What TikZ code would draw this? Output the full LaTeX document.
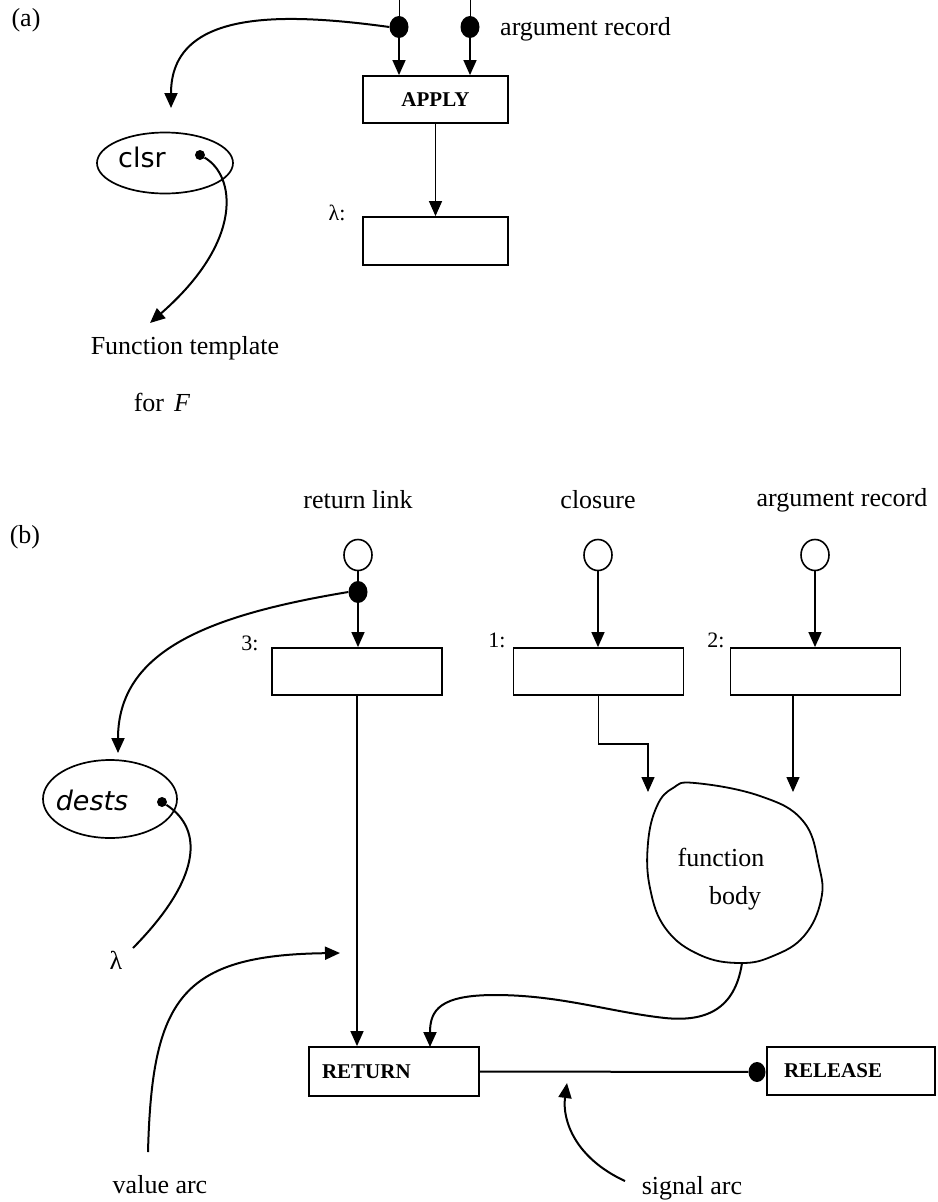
\documentclass[tikz,border=0pt]{standalone}
\usepackage{fontspec}
\setmainfont{Liberation Serif}
\newfontfamily\handfont{DejaVu Sans}
\usetikzlibrary{arrows.meta,shapes.geometric}

\begin{document}
\begin{tikzpicture}[x=1pt,y=-1pt,
  arrowed/.style={-{Triangle[length=15pt,width=13pt]}},
  linkline/.style={line width=1.4pt},
  thinline/.style={line width=1pt},
  bendline/.style={line width=2pt},
  box/.style={draw, line width=1.8pt, minimum width=170pt, minimum height=47pt, inner sep=0pt},
  opbox/.style={box, font=\fontsize{21}{25}\selectfont\bfseries},
  lbl/.style={font=\fontsize{26}{30}\selectfont, inner sep=0pt},
  idx/.style={font=\fontsize{22}{26}\selectfont, inner sep=0pt},
  token/.style={ellipse, fill=black, minimum width=19pt, minimum height=22pt, inner sep=0pt},
  smalldot/.style={circle, fill=black, minimum size=10pt, inner sep=0pt},
  port/.style={ellipse, draw, line width=1.6pt, minimum width=28pt, minimum height=31pt, inner sep=0pt},
  store/.style={ellipse, draw, line width=1.7pt, inner sep=0pt},
  hand/.style={font=\handfont\fontsize{27}{30}\selectfont, inner sep=0pt}
]
\useasboundingbox (0,0) rectangle (937,1202);

% ---------------- (a) APPLY ----------------
\node[lbl] (tagA) at (26,20) {(a)};
\node[lbl, anchor=west] (argA) at (500,29) {argument record};

\coordinate (inA) at (399,0);
\coordinate (inB) at (470,0);
\node[token] (tokA) at (399,27) {};
\node[token] (tokB) at (470,27) {};
\draw[thinline] (inA) -- (tokA);
\draw[thinline] (inB) -- (tokB);

\node[opbox, minimum width=145pt] (apply) at (435.5,99.5) {APPLY};
\node[box, minimum width=145pt, minimum height=48pt] (lam) at (435.5,241) {};
\node[idx] (lamlbl) at (337,213) {λ:};

\draw[linkline,arrowed] (tokA.south) -- (tokA |- apply.north);
\draw[linkline,arrowed] (tokB.south) -- (tokB |- apply.north);
\draw[linkline,arrowed] (apply.south) -- (lam.north);

% closure record
\node[store, minimum width=136pt, minimum height=61pt] (clsr) at (165,163) {};
\node[hand] (clsrtxt) at (142,157) {clsr};
\node[smalldot] (clsrdot) at (200,155) {};
\coordinate (clsrin) at (171,108);
\draw[bendline,arrowed] (tokA.west) .. controls (280,12) and (171,10) .. (clsrin);

\coordinate (tmplend) at (150,323);
\draw[bendline,arrowed] (clsrdot) .. controls (235,175) and (245,240) .. (tmplend);
\node[lbl] (tmpl) at (185,348) {Function template};
\node[lbl] (forF) at (162,402) {for\hspace{10pt}\textit{F}};

% ---------------- (b) call / return ----------------
\node[lbl] (tagB) at (25,537) {(b)};
\node[lbl] (rl) at (358,500) {return link};
\node[lbl] (cl) at (598,500) {closure};
\node[lbl] (ar) at (842,500) {argument record};

\node[port] (p3) at (358,555) {};
\node[port] (p1) at (598,555) {};
\node[port] (p2) at (815,555) {};
\node[token] (tokR) at (358,592) {};

\node[box] (b3) at (357,671.5) {};
\node[box] (b1) at (598.5,671.5) {};
\node[box] (b2) at (815.5,671.5) {};
\node[idx] (l3) at (250,643) {3:};
\node[idx] (l1) at (497,640) {1:};
\node[idx] (l2) at (716,640) {2:};

\draw[linkline] (p3.south) -- (tokR);
\draw[linkline,arrowed] (tokR.south) -- (tokR |- b3.north);
\draw[linkline,arrowed] (p1.south) -- (p1 |- b1.north);
\draw[linkline,arrowed] (p2.south) -- (p2 |- b2.north);

% function body
\coordinate (fb1) at (648,792);
\coordinate (fb2) at (793,792);
\coordinate (fbout) at (742,963);
\draw[linkline,arrowed] (b1.south) -- ++(0,48) -| (fb1);
\draw[linkline,arrowed] (b2.south -| fb2) -- (fb2);
\draw[line width=1.8pt] plot[smooth cycle, tension=0.7] coordinates
  {(695,783) (760,796) (803,821) (819,866) (821,900) (804,936) (773,956)
   (740,963) (700,955) (666,929) (650,888) (648,843) (657,806) (673,788)};
\node[lbl] (fn1) at (721,857) {function};
\node[lbl] (fn2) at (735,898) {body};

% destinations record
\node[store, minimum width=134pt, minimum height=78pt] (dests) at (110,799) {};
\node[hand, font=\handfont\itshape\fontsize{27}{30}\selectfont] (deststxt) at (92,800) {dests};
\node[smalldot] (dd) at (162,802) {};
\coordinate (destsin) at (118,753);
\draw[bendline,arrowed] (tokR.west) .. controls (210,615) and (118,650) .. (destsin);
\node[idx, font=\fontsize{26}{30}\selectfont] (lamB) at (116,960) {λ};
\coordinate (lamend) at (133,948);
\draw[bendline] (dd) .. controls (205,830) and (200,880) .. (lamend);

% RETURN / RELEASE
\node[opbox, text width=144pt, align=left, inner xsep=13pt, minimum height=49pt] (ret) at (394,1071.5) {RETURN};
\node[opbox, minimum width=168pt, text width=134pt, align=left, inner xsep=17pt, minimum height=48pt] (rel) at (851,1071) {RELEASE};
\node[token, minimum width=17pt, minimum height=20pt] (tokS) at (757,1072) {};

\coordinate (retin) at (430,1047);
\draw[linkline,arrowed] (b3.south) -- (b3.south |- ret.north);
\draw[bendline,arrowed] (fbout) .. controls (735,1010) and (705,1022) .. (665,1018)
  .. controls (610,1012) and (560,995) .. (495,995)
  .. controls (440,995) and (430,1010) .. (retin);
\draw[bendline] (ret.east) -- (tokS);

% annotations
\node[lbl] (sig) at (692,1188) {signal arc};
\coordinate (sigstart) at (625,1181);
\coordinate (sigtip) at (567,1083);
\draw[bendline,arrowed] (sigstart) .. controls (575,1158) and (562,1120) .. (sigtip);

\node[lbl] (val) at (160,1185) {value arc};
\coordinate (valstart) at (148,1152);
\coordinate (valtip) at (340,953);
\draw[bendline,arrowed] (valstart) .. controls (152,1000) and (180,955) .. (valtip);
\end{tikzpicture}
\end{document}
